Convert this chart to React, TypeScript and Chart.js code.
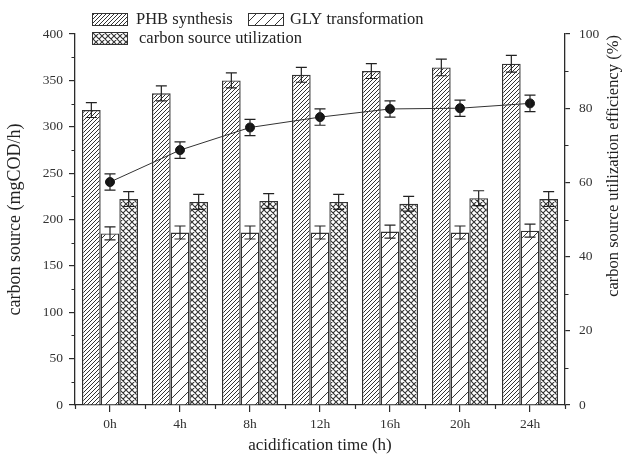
import React, { useEffect, useRef } from "react";
import { Chart, registerables } from "chart.js";

Chart.register(...registerables);

const categories = ["0h", "4h", "8h", "12h", "16h", "20h", "24h"];
const phbSynthesis = [318, 336, 350, 356, 360, 364, 368];
const phbError = [8, 8, 8, 8, 8, 9, 9];
const glyTransformation = [185, 186, 186, 186, 187, 186, 188];
const glyError = [7, 7, 7, 7, 7, 7, 7];
const carbonUtilization = [222, 219, 220, 219, 217, 223, 222];
const carbonError = [8, 8, 8, 8, 8, 8, 8];
const efficiency = [60.1, 68.7, 74.8, 77.6, 79.8, 80.0, 81.3];
const efficiencyError = [2.2, 2.2, 2.2, 2.2, 2.2, 2.2, 2.2];
const leftMinorTicks = [25, 75, 125, 175, 225, 275, 325, 375];
const rightMinorTicks = [10, 30, 50, 70, 90];
const rightTitle = "carbon source utilization efficiency (%)";

const FONT = "'Liberation Serif', 'Times New Roman', serif";
const INK = "#2b2b2b";

function makePattern(spacing: number, lineWidth: number, cross: boolean): CanvasPattern | string {
  const c = document.createElement("canvas");
  c.width = spacing;
  c.height = spacing;
  const ctx = c.getContext("2d");
  if (!ctx) return "#fff";
  ctx.fillStyle = "#ffffff";
  ctx.fillRect(0, 0, spacing, spacing);
  ctx.strokeStyle = "#333";
  ctx.lineWidth = lineWidth;
  ctx.beginPath();
  for (let k = -1; k <= 1; k++) {
    ctx.moveTo(k * spacing, spacing);
    ctx.lineTo(k * spacing + spacing, 0);
    if (cross) {
      ctx.moveTo(k * spacing, 0);
      ctx.lineTo(k * spacing + spacing, spacing);
    }
  }
  ctx.stroke();
  const p = ctx.createPattern(c, "repeat");
  return p || "#fff";
}

export default function App() {
  const ref = useRef<HTMLCanvasElement | null>(null);

  useEffect(() => {
    if (!ref.current) return;
    const phbPat = makePattern(4, 1, false);
    const glyPat = makePattern(10, 1, false);
    const carbPat = makePattern(6, 1.1, true);

    const errorBars = {
      id: "errorBars",
      afterDatasetsDraw(chart: any) {
        const ctx = chart.ctx;
        const sets: [number, number[], number[], string][] = [
          [0, phbSynthesis, phbError, "y"],
          [1, glyTransformation, glyError, "y"],
          [2, carbonUtilization, carbonError, "y"],
          [3, efficiency, efficiencyError, "y1"],
        ];
        ctx.save();
        ctx.strokeStyle = "#222";
        ctx.lineWidth = 1.2;
        for (const [idx, vals, errs, axis] of sets) {
          const meta = chart.getDatasetMeta(idx);
          const sc = chart.scales[axis];
          meta.data.forEach((el: any, i: number) => {
            const x = el.x;
            const yt = sc.getPixelForValue(vals[i] + errs[i]);
            const yb = sc.getPixelForValue(vals[i] - errs[i]);
            const hw = 5.5;
            ctx.beginPath();
            ctx.moveTo(x, yt);
            ctx.lineTo(x, yb);
            ctx.moveTo(x - hw, yt);
            ctx.lineTo(x + hw, yt);
            ctx.moveTo(x - hw, yb);
            ctx.lineTo(x + hw, yb);
            ctx.stroke();
          });
        }
        ctx.restore();
      },
    };

    const minorTicks = {
      id: "minorTicks",
      afterDraw(chart: any) {
        const ctx = chart.ctx;
        const y = chart.scales.y;
        const y1 = chart.scales.y1;
        const area = chart.chartArea;
        ctx.save();
        ctx.strokeStyle = INK;
        ctx.lineWidth = 1.2;
        ctx.beginPath();
        for (const v of leftMinorTicks) {
          const py = Math.round(y.getPixelForValue(v)) + 0.5;
          ctx.moveTo(area.left - 3.5, py);
          ctx.lineTo(area.left, py);
        }
        for (const v of rightMinorTicks) {
          const py = Math.round(y1.getPixelForValue(v)) + 0.5;
          ctx.moveTo(area.right, py);
          ctx.lineTo(area.right + 3.5, py);
        }
        const n = categories.length;
        const w = (area.right - area.left) / n;
        for (let i = 0; i <= n; i++) {
          const px = Math.round(area.left + i * w) + 0.5;
          ctx.moveTo(px, area.bottom);
          ctx.lineTo(px, area.bottom + 4);
        }
        ctx.stroke();
        ctx.restore();
      },
    };

    const legendPlugin = {
      id: "customLegend",
      afterDraw(chart: any) {
        const ctx = chart.ctx;
        const items: [number, number, number, CanvasPattern | string, string][] = [
          [92, 13, 136, phbPat, "PHB synthesis"],
          [248, 13, 290, glyPat, "GLY transformation"],
          [92, 32, 139, carbPat, "carbon source utilization"],
        ];
        ctx.save();
        for (const [bx, by, tx, pat, label] of items) {
          ctx.fillStyle = pat as any;
          ctx.fillRect(bx, by, 36, 13);
          ctx.strokeStyle = "#333";
          ctx.lineWidth = 1;
          ctx.strokeRect(bx + 0.5, by + 0.5, 35, 12);
          ctx.fillStyle = "#222";
          ctx.font = `16.5px ${FONT}`;
          ctx.textBaseline = "middle";
          ctx.textAlign = "left";
          ctx.fillText(label, tx, by + 7);
        }
        // right axis title (placed toward the top, as in the reference)
        ctx.translate(614, 166);
        ctx.rotate(-Math.PI / 2);
        ctx.fillStyle = "#222";
        ctx.font = `16.5px ${FONT}`;
        ctx.textAlign = "center";
        ctx.textBaseline = "middle";
        ctx.fillText(rightTitle, 0, 0);
        ctx.restore();
      },
    };

    const barCommon = {
      borderColor: "#333",
      borderWidth: 1.4,
      borderSkipped: "bottom" as const,
      categoryPercentage: 0.8,
      barPercentage: 1.0,
      yAxisID: "y",
      order: 2,
    };

    const chart = new Chart(ref.current, {
      type: "bar",
      data: {
        labels: categories,
        datasets: [
          { ...barCommon, label: "PHB synthesis", data: phbSynthesis, backgroundColor: phbPat as any },
          { ...barCommon, label: "GLY transformation", data: glyTransformation, backgroundColor: glyPat as any },
          { ...barCommon, label: "carbon source utilization", data: carbonUtilization, backgroundColor: carbPat as any },
          {
            type: "line" as const,
            label: "efficiency",
            data: efficiency,
            yAxisID: "y1",
            borderColor: "#333",
            borderWidth: 1,
            backgroundColor: "#151515",
            pointBackgroundColor: "#151515",
            pointBorderColor: "#151515",
            pointRadius: 4.5,
            tension: 0,
            order: 1,
          } as any,
        ],
      },
      options: {
        responsive: false,
        animation: false,
        layout: { padding: { top: 34, left: 0, right: 0, bottom: 0 } },
        plugins: { legend: { display: false }, tooltip: { enabled: false } },
        scales: {
          x: {
            offset: true,
            grid: { display: true, drawOnChartArea: false, offset: false, tickLength: 7, color: INK, lineWidth: 1.2 },
            border: { display: true, color: INK, width: 1.3 },
            ticks: { color: "#333", font: { family: FONT, size: 13.5 }, padding: 4 },
            title: { display: true, text: "acidification time (h)", color: "#222", font: { family: FONT, size: 17 }, padding: { top: 0, bottom: 0 } },
            afterFit: (s: any) => { s.height = 51; },
          },
          y: {
            position: "left",
            min: 0,
            max: 400,
            ticks: { stepSize: 50, color: "#333", font: { family: FONT, size: 13.5 }, padding: 6 },
            grid: { display: true, drawOnChartArea: false, tickLength: 6, color: INK, lineWidth: 1.2 },
            border: { display: true, color: INK, width: 1.3 },
            title: { display: true, text: "carbon source (mgCOD/h)", color: "#222", font: { family: FONT, size: 18 }, padding: { top: 4, bottom: 0 } },
            afterFit: (s: any) => { s.width = 75; },
          },
          y1: {
            position: "right",
            min: 0,
            max: 100,
            ticks: { stepSize: 20, color: "#333", font: { family: FONT, size: 13.5 }, padding: 9 },
            grid: { display: true, drawOnChartArea: false, tickLength: 5, color: INK, lineWidth: 1.2 },
            border: { display: true, color: INK, width: 1.3 },
            title: { display: false },
            afterFit: (s: any) => { s.width = 62; },
          },
        },
      },
      plugins: [errorBars, minorTicks, legendPlugin],
    } as any);

    return () => chart.destroy();
  }, []);

  return (
    <div style={{ position: "fixed", left: 0, top: 0, width: 627, height: 456, background: "#fff" }}>
      <canvas ref={ref} width={627} height={456} style={{ display: "block", width: 627, height: 456 }} />
    </div>
  );
}
